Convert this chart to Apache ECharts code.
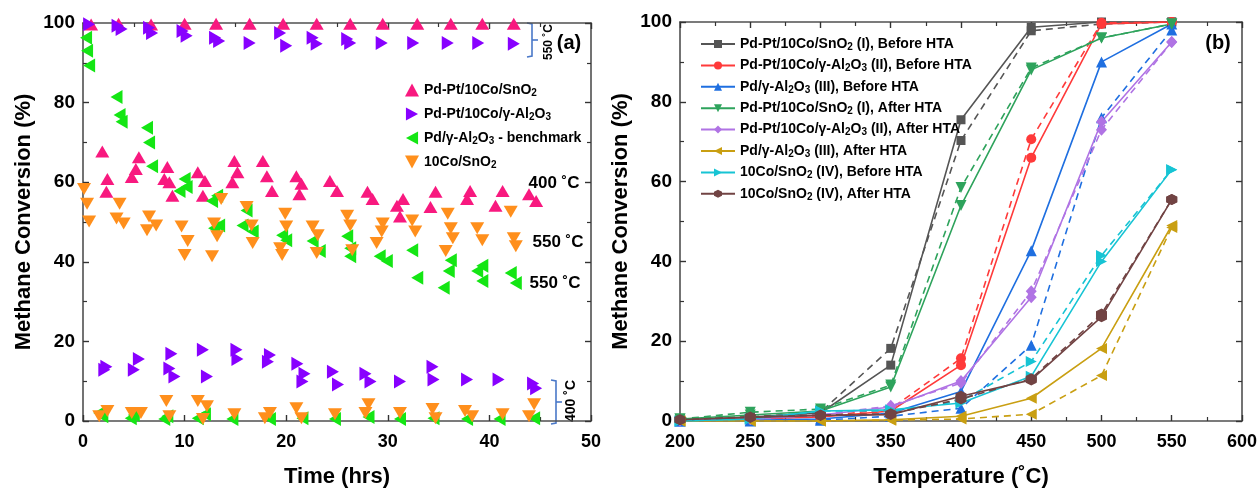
<!DOCTYPE html>
<html>
<head>
<meta charset="utf-8">
<script src="https://cdn.jsdelivr.net/npm/echarts@6/dist/echarts.min.js"></script>
<style>
  html, body { margin: 0; padding: 0; background: #ffffff; }
  #chart { width: 1260px; height: 493px; }
</style>
</head>
<body>
<div id="chart"></div>
<script>
// ---------- Panel (a): stability runs, time on stream (hrs) vs conversion (%) ----------
const pdPtSnO2 = [
  // 550 °C
  [0.8, 99.6], [3.5, 99.8], [6.7, 99.6], [10.0, 99.8], [13.1, 99.8], [16.4, 99.8], [19.7, 99.8],
  [23.0, 99.8], [26.3, 99.8], [29.5, 99.8], [32.9, 99.8], [36.2, 99.8], [39.3, 99.8], [42.4, 99.8],
  // 400 °C
  [1.9, 67.7], [2.4, 60.8], [2.3, 57.6], [5.5, 66.3], [5.2, 63.3], [4.8, 61.3], [8.3, 63.8],
  [8.0, 60.8], [8.5, 60.0], [8.8, 56.6], [11.3, 62.5], [12.0, 60.3], [11.8, 56.6], [14.9, 65.3],
  [15.2, 62.5], [14.7, 60.0], [17.7, 65.3], [18.1, 61.5], [18.6, 57.8], [21.0, 61.5], [21.5, 59.6],
  [21.3, 57.0], [24.3, 60.3], [25.0, 57.8], [28.0, 57.6], [28.5, 55.8], [30.9, 54.1], [31.5, 55.8],
  [31.2, 51.4], [34.7, 57.6], [34.2, 53.8], [38.1, 57.8], [37.8, 55.8], [41.3, 57.8], [40.6, 54.1],
  [43.9, 57.0], [44.6, 55.3]
];
const pdPtAl2O3 = [
  // 550 °C
  [0.6, 99.7], [3.4, 99.3], [3.8, 98.5], [6.5, 98.8], [6.8, 97.5], [9.8, 98.0], [10.2, 96.8],
  [13.0, 96.3], [13.4, 95.5], [16.4, 95.0], [19.4, 97.5], [20.0, 94.3], [22.6, 96.3], [23.0, 94.8],
  [26.0, 96.0], [26.3, 95.0], [29.4, 95.0], [32.5, 95.0], [35.9, 95.0], [38.9, 95.0], [42.4, 94.8],
  // 400 °C
  [2.1, 12.9], [2.3, 13.6], [5.5, 15.6], [5.0, 12.9], [8.7, 16.9], [8.5, 13.2], [9.0, 11.2],
  [11.8, 17.9], [12.2, 11.2], [15.1, 17.9], [15.2, 15.6], [18.4, 16.6], [18.2, 14.9], [21.1, 14.4],
  [21.8, 11.9], [21.6, 9.9], [24.6, 12.4], [25.1, 9.2], [27.8, 11.9], [28.3, 9.9], [31.2, 9.9],
  [34.4, 13.6], [34.5, 10.4], [37.8, 10.4], [40.9, 10.4], [44.3, 9.4], [44.6, 8.2]
];
const pdAl2O3 = [
  // 550 °C
  [0.3, 96.3], [0.4, 93.0], [0.6, 89.3], [3.3, 81.4], [3.6, 76.9], [3.8, 75.2], [6.3, 73.7],
  [6.5, 70.0], [6.8, 64.0], [10.0, 60.8], [9.5, 57.8], [10.2, 58.8], [12.7, 55.3], [13.2, 56.6],
  [13.4, 49.1], [12.9, 48.4], [16.1, 52.9], [15.7, 49.1], [16.7, 47.6], [19.6, 46.7], [20.0, 45.4],
  [22.6, 45.2], [23.3, 42.7], [26.0, 46.4], [26.3, 43.4], [26.3, 41.4], [29.2, 41.4], [29.9, 40.2],
  [32.4, 42.9], [32.9, 36.0], [35.5, 33.5], [36.2, 40.4], [36.0, 37.7], [38.8, 37.7], [39.3, 39.0],
  [39.3, 35.2], [42.1, 37.2], [42.6, 34.7],
  // 400 °C
  [1.6, 2.0], [1.9, 1.2], [4.7, 0.7], [5.0, 1.5], [8.0, 0.5], [8.3, 1.2], [11.3, 0.7], [12.0, 1.7],
  [14.7, 0.5], [18.4, 0.5], [21.6, 0.7], [24.8, 0.5], [28.1, 1.0], [31.2, 0.5], [34.5, 0.7],
  [37.8, 0.5], [41.0, 0.5], [44.4, 0.7]
];
const coSnO2 = [
  // 550 °C
  [0.1, 58.3], [0.4, 54.6], [0.6, 50.1], [3.3, 50.9], [3.6, 54.6], [4.0, 49.6], [6.5, 51.4],
  [6.3, 47.9], [7.2, 49.1], [9.7, 48.9], [10.3, 45.2], [10.0, 41.7], [12.9, 49.6], [13.2, 46.4],
  [12.7, 41.4], [13.6, 55.8], [16.1, 53.8], [16.6, 49.1], [16.7, 44.7], [19.9, 52.1], [20.0, 48.9],
  [19.4, 43.4], [19.6, 41.7], [22.6, 48.9], [23.1, 46.7], [23.0, 42.2], [26.0, 51.6], [26.3, 49.1],
  [26.5, 42.9], [28.9, 44.7], [29.5, 49.6], [29.4, 47.6], [32.4, 50.4], [32.7, 47.6], [35.9, 52.1],
  [36.2, 48.4], [36.4, 45.9], [35.7, 42.7], [38.8, 48.4], [39.3, 45.4], [42.1, 52.6], [42.4, 45.9],
  [42.6, 43.9],
  // 400 °C
  [2.4, 2.5], [1.6, 1.2], [4.8, 2.0], [5.7, 2.0], [8.2, 5.0], [8.5, 1.2], [11.3, 5.0], [12.2, 3.7],
  [11.8, 0.5], [14.9, 1.7], [18.4, 2.0], [17.9, 0.7], [21.0, 3.2], [21.5, 0.7], [24.8, 1.7],
  [28.1, 4.2], [27.8, 2.0], [31.2, 2.0], [34.4, 3.0], [34.7, 0.7], [37.6, 2.5], [38.3, 1.2],
  [41.3, 1.7], [44.4, 4.2], [43.9, 1.2]
];

// ---------- Panel (b): light-off curves, two runs per catalyst ----------
const temps = [200, 250, 300, 350, 400, 450, 500, 550];
const snI_before   = [0.3, 1.0, 2.0, 14.0, 75.5, 98.7, 100, 100];
const snI_before2  = [0.3, 1.0, 2.2, 18.2, 70.3, 97.8, 99.5, 100];
const alII_before  = [0.2, 0.5, 1.0, 2.5, 14.0, 66.0, 99.5, 100];
const alII_before2 = [0.2, 0.5, 1.2, 3.0, 15.7, 70.6, 99.8, 100];
const pdIII_before  = [0, 0.2, 0.5, 2.0, 7.4, 42.7, 90.0, 99.5];
const pdIII_before2 = [0, 0, 0.2, 1.2, 3.2, 19.0, 76.0, 98.0];
const snI_after    = [0.5, 1.5, 2.5, 8.5, 54.0, 88.0, 96.0, 99.5];
const snI_after2   = [0.5, 2.2, 3.0, 9.0, 58.5, 88.5, 96.0, 99.5];
const alII_after   = [0.2, 0.5, 1.5, 3.5, 10.0, 31.0, 75.0, 95.0];
const alII_after2  = [0.2, 0.5, 1.5, 3.8, 9.5, 32.5, 73.0, 95.0];
const pdIII_after  = [0, 0, 0, 0.3, 1.2, 5.7, 18.2, 49.0];
const pdIII_after2 = [0, 0, 0, 0.2, 0.5, 1.7, 11.4, 48.5];
const coIV_before  = [0, 0.5, 2.5, 2.8, 4.5, 11.2, 40.0, 63.0];
const coIV_before2 = [0, 0.5, 2.5, 2.5, 5.0, 14.9, 41.5, 63.0];
const coIV_after   = [0.3, 0.9, 1.4, 1.6, 6.2, 10.3, 26.1, 55.5];
const coIV_after2  = [0.3, 1.0, 1.5, 1.8, 5.5, 10.6, 26.8, 55.5];

const FONT = '"Liberation Sans", Arial, Helvetica, sans-serif';
const AXIS_COLOR = '#505050';
const HEX = 'path://M50,0 L93.3,25 L93.3,75 L50,100 L6.7,75 L6.7,25 Z';
const TRI = {
  up: 'path://M7,0 L14,13 L0,13 Z',
  right: 'path://M0,0 L13,7 L0,14 Z',
  left: 'path://M13,0 L0,7 L13,14 Z',
  down: 'path://M0,0 L14,0 L7,13 Z'
};

// subscripts for chemical formulae in legend labels
function formula(name) {
  return name.replace(/Al2/g, 'Al{s|2}').replace(/O3/g, 'O{s|3}').replace(/O2/g, 'O{s|2}');
}

function xAx(grid, min, max, interval, pos, name) {
  const bottom = pos === 'bottom';
  return {
    type: 'value', gridIndex: grid, position: pos, min: min, max: max, interval: interval,
    axisLine: { show: true, onZero: false, lineStyle: { color: AXIS_COLOR, width: 1.6 } },
    axisTick: { show: true, inside: true, length: 6, lineStyle: { color: '#333', width: 1.4 } },
    minorTick: { show: true, splitNumber: 2, length: 4, lineStyle: { color: '#333', width: 1.2 } },
    splitLine: { show: false },
    axisLabel: { show: bottom, margin: 12, color: '#000', fontFamily: FONT, fontWeight: 'bold', fontSize: 18 },
    name: bottom ? name : '', nameLocation: 'middle', nameGap: 45,
    nameTextStyle: { color: '#000', fontFamily: FONT, fontWeight: 'bold', fontSize: 22 }
  };
}
function yAx(grid, pos, name) {
  const left = pos === 'left';
  return {
    type: 'value', gridIndex: grid, position: pos, min: 0, max: 100, interval: 20,
    axisLine: { show: true, onZero: false, lineStyle: { color: AXIS_COLOR, width: 1.6 } },
    axisTick: { show: true, inside: true, length: 6, lineStyle: { color: '#333', width: 1.4 } },
    minorTick: { show: true, splitNumber: 2, length: 4, lineStyle: { color: '#333', width: 1.2 } },
    splitLine: { show: false },
    axisLabel: { show: left, margin: 8, color: '#000', fontFamily: FONT, fontWeight: 'bold', fontSize: 19 },
    name: left ? name : '', nameLocation: 'middle', nameGap: 48,
    nameTextStyle: { color: '#000', fontFamily: FONT, fontWeight: 'bold', fontSize: 22 }
  };
}

function scatter(name, data, color, rotate) {
  return {
    type: 'scatter', name: name, data: data, xAxisIndex: 0, yAxisIndex: 0,
    symbol: 'triangle', symbolSize: [14, 12], symbolRotate: rotate,
    itemStyle: { color: color, opacity: 1 }
  };
}

function run(name, values, color, symbol, size, rotate, dashed) {
  return {
    type: 'line', name: name, xAxisIndex: 2, yAxisIndex: 2,
    data: temps.map((t, i) => [t, values[i]]),
    symbol: symbol, symbolSize: size, symbolRotate: rotate || 0, showAllSymbol: true,
    lineStyle: { color: color, width: 1.6, type: dashed ? [7, 5] : 'solid' },
    itemStyle: { color: color },
    emphasis: { disabled: true }
  };
}

const leftNames = ['Pd-Pt/10Co/SnO2', 'Pd-Pt/10Co/γ-Al2O3', 'Pd/γ-Al2O3 - benchmark', '10Co/SnO2'];
const leftIcons = [TRI.up, TRI.right, TRI.left, TRI.down];
const rightDefs = [
  ['Pd-Pt/10Co/SnO2 (I), Before HTA',     snI_before,   snI_before2,   '#555555', 'rect', 9, 0],
  ['Pd-Pt/10Co/γ-Al2O3 (II), Before HTA', alII_before,  alII_before2,  '#ff3a3a', 'circle', 10, 0],
  ['Pd/γ-Al2O3 (III), Before HTA',        pdIII_before, pdIII_before2, '#1f6fe0', 'triangle', 11, 0],
  ['Pd-Pt/10Co/SnO2 (I), After HTA',      snI_after,    snI_after2,    '#2ea35c', 'triangle', 11, 180],
  ['Pd-Pt/10Co/γ-Al2O3 (II), After HTA',  alII_after,   alII_after2,   '#b073e4', 'diamond', [11, 12], 0],
  ['Pd/γ-Al2O3 (III), After HTA',         pdIII_after,  pdIII_after2,  '#c99f12', 'triangle', 11, 90],
  ['10Co/SnO2 (IV), Before HTA',          coIV_before,  coIV_before2,  '#17c4d4', 'triangle', 11, -90],
  ['10Co/SnO2 (IV), After HTA',           coIV_after,   coIV_after2,   '#714343', HEX, 11, 0]
];

const series = [
  scatter(leftNames[0], pdPtSnO2, '#f8197f', 0),
  scatter(leftNames[1], pdPtAl2O3, '#8800ff', -90),
  scatter(leftNames[2], pdAl2O3, '#14e614', 90),
  scatter(leftNames[3], coSnO2, '#ff8f1c', 180)
];
rightDefs.forEach(d => {
  series.push(run(d[0] + ' – run 2', d[2], d[3], d[4], d[5], d[6], true));
  series.push(run(d[0], d[1], d[3], d[4], d[5], d[6], false));
});

const legendText = (size) => ({
  color: '#000', fontFamily: FONT, fontWeight: 'bold', fontSize: size,
  rich: { s: { fontFamily: FONT, fontWeight: 'bold', fontSize: Math.round(size * 0.68), padding: [6, 0, 0, 0] } }
});

const BRACKET = '#4a78c8';
const annoText = (x, y, text, size, rotation) => ({
  type: 'text', x: x, y: y, rotation: rotation || 0,
  style: { text: text, fill: '#000', font: 'bold ' + size + 'px ' + FONT, align: 'center', verticalAlign: 'middle' }
});

const option = {
  animation: false,
  backgroundColor: '#ffffff',
  grid: [
    { left: 83, top: 23, width: 508, height: 402 },
    { left: 680, top: 22, width: 562, height: 401 }
  ],
  xAxis: [
    xAx(0, 0, 50, 10, 'bottom', 'Time (hrs)'),
    xAx(0, 0, 50, 10, 'top'),
    xAx(1, 200, 600, 50, 'bottom', 'Temperature (˚C)'),
    xAx(1, 200, 600, 50, 'top')
  ],
  yAxis: [
    yAx(0, 'left', 'Methane Conversion (%)'),
    yAx(0, 'right'),
    yAx(1, 'left', 'Methane Conversion (%)'),
    yAx(1, 'right')
  ],
  legend: [
    {
      data: leftNames.map((n, i) => ({ name: n, icon: leftIcons[i] })),
      orient: 'vertical', left: 400, top: 78, itemGap: 9,
      itemWidth: 14, itemHeight: 13, selectedMode: false,
      formatter: formula, textStyle: legendText(14)
    },
    {
      data: rightDefs.map(d => d[0]), orient: 'vertical', left: 695, top: 32, itemGap: 6.4,
      itemWidth: 34, itemHeight: 10, selectedMode: false,
      formatter: formula, textStyle: legendText(14)
    }
  ],
  graphic: [
    // brace around the 550 °C block, top right of panel (a)
    { type: 'polyline', shape: { points: [[527, 23], [532, 24], [532, 56], [527, 57]] },
      style: { stroke: BRACKET, lineWidth: 1.6, fill: null } },
    { type: 'line', shape: { x1: 532, y1: 40, x2: 538, y2: 40 }, style: { stroke: BRACKET, lineWidth: 1.6 } },
    annoText(549, 42, '550 ˚C', 12, Math.PI / 2),
    annoText(569, 43, '(a)', 20),
    annoText(554, 183, '400 ˚C', 17),
    annoText(558, 242, '550 ˚C', 17),
    annoText(555, 283, '550 ˚C', 17),
    // brace around the 400 °C block, bottom right of panel (a)
    { type: 'polyline', shape: { points: [[551, 380], [556, 381], [556, 423], [551, 424]] },
      style: { stroke: BRACKET, lineWidth: 1.6, fill: null } },
    { type: 'line', shape: { x1: 556, y1: 402, x2: 562, y2: 402 }, style: { stroke: BRACKET, lineWidth: 1.6 } },
    annoText(571, 401, '400 ˚C', 14, Math.PI / 2),
    annoText(1218, 43, '(b)', 20)
  ],
  series: series
};

const chart = echarts.init(document.getElementById('chart'), null, { renderer: 'canvas' });
chart.setOption(option);
</script>
</body>
</html>
